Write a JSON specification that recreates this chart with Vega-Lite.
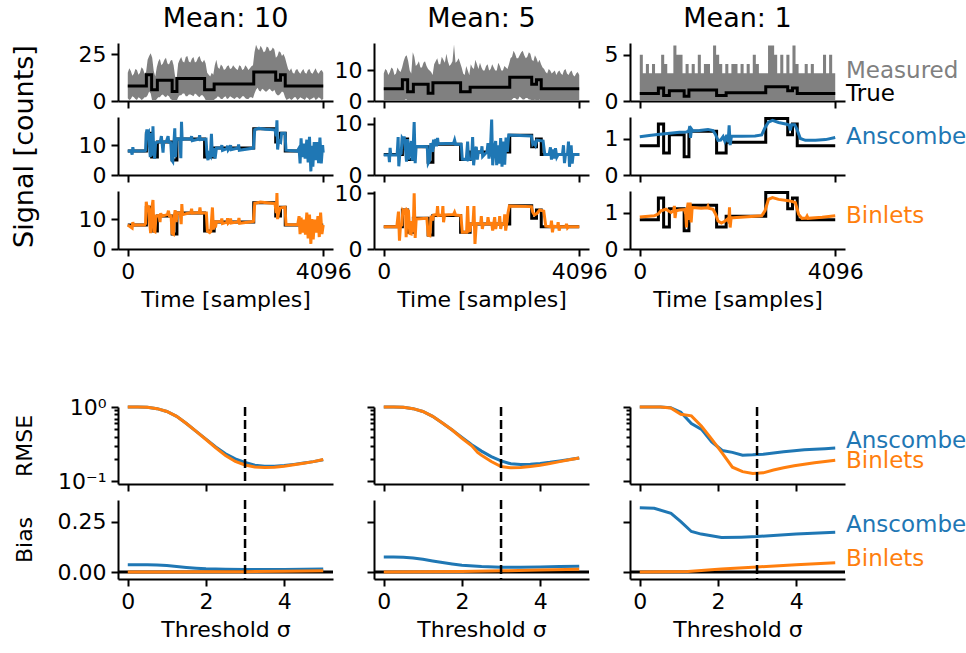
{
"$schema":"https://vega.github.io/schema/vega-lite/v6.json",
"padding":{"left":10,"top":5,"right":0,"bottom":0},
"bounds":"flush",
"columns":3,
"spacing":{"row":16,"column":41},
"config":{
 "font":"DejaVu Sans",
 "view":{"stroke":null},
 "axis":{"grid":false,"domainColor":"#000","domainWidth":2,"tickColor":"#000","tickWidth":2,"tickSize":7,"labelFont":"DejaVu Sans","labelFontSize":22,"labelColor":"#000","labelPadding":5,"labelFlush":false,"labelOverlap":false,"titleFont":"DejaVu Sans","titleFontSize":22,"titleFontWeight":"normal","titleColor":"#000","titlePadding":7},
 "title":{"font":"DejaVu Sans","fontSize":27,"fontWeight":"normal","color":"#000","offset":10}
},
"datasets":{
"meas":[
{"c":1,"t":0,"lo":1.5,"hi":15},{"c":1,"t":64,"lo":1,"hi":16},{"c":1,"t":128,"lo":2,"hi":14.5},{"c":1,"t":192,"lo":0.5,"hi":16.5},{"c":1,"t":256,"lo":1.5,"hi":15},{"c":1,"t":320,"lo":1,"hi":17},{"c":1,"t":384,"lo":2,"hi":15.5},{"c":1,"t":448,"lo":5,"hi":24},{"c":1,"t":512,"lo":0,"hi":23},{"c":1,"t":576,"lo":0,"hi":13},{"c":1,"t":640,"lo":2,"hi":21},{"c":1,"t":704,"lo":3,"hi":19},{"c":1,"t":768,"lo":2.5,"hi":22},{"c":1,"t":832,"lo":3,"hi":20},{"c":1,"t":896,"lo":1,"hi":21.5},{"c":1,"t":960,"lo":0,"hi":19},{"c":1,"t":1024,"lo":0,"hi":12},{"c":1,"t":1088,"lo":3,"hi":22},{"c":1,"t":1152,"lo":4,"hi":21},{"c":1,"t":1216,"lo":2.5,"hi":23.5},{"c":1,"t":1280,"lo":3.5,"hi":21},{"c":1,"t":1344,"lo":3,"hi":22.5},{"c":1,"t":1408,"lo":4,"hi":20.5},{"c":1,"t":1472,"lo":2.5,"hi":23},{"c":1,"t":1536,"lo":3,"hi":21.5},{"c":1,"t":1600,"lo":2,"hi":22},{"c":1,"t":1664,"lo":0,"hi":15},{"c":1,"t":1728,"lo":0.5,"hi":13},{"c":1,"t":1792,"lo":0,"hi":14},{"c":1,"t":1856,"lo":1.5,"hi":22},{"c":1,"t":1920,"lo":2,"hi":17},{"c":1,"t":1984,"lo":1,"hi":18.5},{"c":1,"t":2048,"lo":2.5,"hi":17},{"c":1,"t":2112,"lo":1.5,"hi":19},{"c":1,"t":2176,"lo":2,"hi":17.5},{"c":1,"t":2240,"lo":1,"hi":18},{"c":1,"t":2304,"lo":2,"hi":16.5},{"c":1,"t":2368,"lo":1.5,"hi":18.5},{"c":1,"t":2432,"lo":2.5,"hi":17},{"c":1,"t":2496,"lo":1,"hi":18},{"c":1,"t":2560,"lo":2,"hi":17.5},{"c":1,"t":2624,"lo":1.5,"hi":19},{"c":1,"t":2688,"lo":6,"hi":30},{"c":1,"t":2752,"lo":5.5,"hi":27},{"c":1,"t":2816,"lo":6.5,"hi":28},{"c":1,"t":2880,"lo":5,"hi":26.5},{"c":1,"t":2944,"lo":6,"hi":28.5},{"c":1,"t":3008,"lo":5.5,"hi":27},{"c":1,"t":3072,"lo":6,"hi":27.5},{"c":1,"t":3136,"lo":3,"hi":24},{"c":1,"t":3200,"lo":4,"hi":26},{"c":1,"t":3264,"lo":4.5,"hi":25},{"c":1,"t":3328,"lo":0.5,"hi":20},{"c":1,"t":3392,"lo":1.5,"hi":16},{"c":1,"t":3456,"lo":1,"hi":15},{"c":1,"t":3520,"lo":2,"hi":16.5},{"c":1,"t":3584,"lo":1,"hi":15.5},{"c":1,"t":3648,"lo":1.5,"hi":16},{"c":1,"t":3712,"lo":0.5,"hi":15},{"c":1,"t":3776,"lo":1.5,"hi":16.5},{"c":1,"t":3840,"lo":1,"hi":15},{"c":1,"t":3904,"lo":2,"hi":16},{"c":1,"t":3968,"lo":1,"hi":15.5},{"c":1,"t":4032,"lo":1.5,"hi":16},{"c":1,"t":4096,"lo":1,"hi":15},
{"c":1,"t":32,"lo":0.5,"hi":17.5},{"c":1,"t":96,"lo":2.5,"hi":13.5},{"c":1,"t":160,"lo":1,"hi":17},{"c":1,"t":224,"lo":2,"hi":14},{"c":1,"t":288,"lo":0.5,"hi":18},{"c":1,"t":352,"lo":2,"hi":14.5},{"c":1,"t":416,"lo":3,"hi":22},{"c":1,"t":480,"lo":4,"hi":25.5},{"c":1,"t":544,"lo":0.5,"hi":16},{"c":1,"t":608,"lo":1,"hi":18},{"c":1,"t":672,"lo":2,"hi":22.5},{"c":1,"t":736,"lo":3.5,"hi":20},{"c":1,"t":800,"lo":2,"hi":23},{"c":1,"t":864,"lo":2.5,"hi":19.5},{"c":1,"t":928,"lo":0.5,"hi":22},{"c":1,"t":992,"lo":0,"hi":13},{"c":1,"t":1056,"lo":2,"hi":20},{"c":1,"t":1120,"lo":3,"hi":23.5},{"c":1,"t":1184,"lo":4,"hi":20.5},{"c":1,"t":1248,"lo":2.5,"hi":24},{"c":1,"t":1312,"lo":3.5,"hi":20.5},{"c":1,"t":1376,"lo":2.5,"hi":23.5},{"c":1,"t":1440,"lo":3.5,"hi":21},{"c":1,"t":1504,"lo":2,"hi":24},{"c":1,"t":1568,"lo":3,"hi":20.5},{"c":1,"t":1632,"lo":0.5,"hi":20},{"c":1,"t":1696,"lo":0,"hi":14},{"c":1,"t":1760,"lo":0,"hi":15},{"c":1,"t":1824,"lo":1,"hi":19},{"c":1,"t":1888,"lo":2.5,"hi":18},{"c":1,"t":1952,"lo":1,"hi":19.5},{"c":1,"t":2016,"lo":2,"hi":16.5},{"c":1,"t":2080,"lo":1,"hi":18.5},{"c":1,"t":2144,"lo":2.5,"hi":17},{"c":1,"t":2208,"lo":1.5,"hi":19},{"c":1,"t":2272,"lo":2,"hi":17},{"c":1,"t":2336,"lo":1,"hi":19},{"c":1,"t":2400,"lo":2.5,"hi":16.5},{"c":1,"t":2464,"lo":1.5,"hi":19},{"c":1,"t":2528,"lo":1,"hi":16.5},{"c":1,"t":2592,"lo":2,"hi":18.5},{"c":1,"t":2656,"lo":4,"hi":26},{"c":1,"t":2720,"lo":7,"hi":28},{"c":1,"t":2784,"lo":5,"hi":29.5},{"c":1,"t":2848,"lo":6,"hi":26},{"c":1,"t":2912,"lo":5,"hi":29},{"c":1,"t":2976,"lo":6.5,"hi":26.5},{"c":1,"t":3040,"lo":5,"hi":28.5},{"c":1,"t":3104,"lo":4,"hi":23},{"c":1,"t":3168,"lo":3,"hi":26.5},{"c":1,"t":3232,"lo":5,"hi":24},{"c":1,"t":3296,"lo":2,"hi":23},{"c":1,"t":3360,"lo":1,"hi":17},{"c":1,"t":3424,"lo":0.5,"hi":17.5},{"c":1,"t":3488,"lo":2,"hi":14.5},{"c":1,"t":3552,"lo":0.5,"hi":17},{"c":1,"t":3616,"lo":2,"hi":14.5},{"c":1,"t":3680,"lo":1,"hi":17},{"c":1,"t":3744,"lo":2,"hi":14.5},{"c":1,"t":3808,"lo":0.5,"hi":17},{"c":1,"t":3872,"lo":1.5,"hi":14.5},{"c":1,"t":3936,"lo":0.5,"hi":17.5},{"c":1,"t":4000,"lo":2,"hi":14.5},{"c":1,"t":4064,"lo":0.5,"hi":16.5},
{"c":2,"t":0,"lo":0,"hi":9},{"c":2,"t":64,"lo":0,"hi":10},{"c":2,"t":128,"lo":0,"hi":9.5},{"c":2,"t":192,"lo":0,"hi":10.5},{"c":2,"t":256,"lo":0,"hi":9},{"c":2,"t":320,"lo":0,"hi":10},{"c":2,"t":384,"lo":0,"hi":11},{"c":2,"t":448,"lo":0.5,"hi":14.5},{"c":2,"t":512,"lo":0,"hi":13},{"c":2,"t":576,"lo":0,"hi":9},{"c":2,"t":640,"lo":0,"hi":14.5},{"c":2,"t":704,"lo":0,"hi":12},{"c":2,"t":768,"lo":0,"hi":11},{"c":2,"t":832,"lo":0,"hi":12.5},{"c":2,"t":896,"lo":0,"hi":11.5},{"c":2,"t":960,"lo":0,"hi":10},{"c":2,"t":1024,"lo":0,"hi":8.5},{"c":2,"t":1088,"lo":0,"hi":13},{"c":2,"t":1152,"lo":0,"hi":12},{"c":2,"t":1216,"lo":0,"hi":14.5},{"c":2,"t":1280,"lo":0,"hi":12.5},{"c":2,"t":1344,"lo":0,"hi":13},{"c":2,"t":1408,"lo":0,"hi":12},{"c":2,"t":1472,"lo":0,"hi":18.5},{"c":2,"t":1536,"lo":0,"hi":13},{"c":2,"t":1600,"lo":0,"hi":12.5},{"c":2,"t":1664,"lo":0,"hi":9},{"c":2,"t":1728,"lo":0,"hi":11.5},{"c":2,"t":1792,"lo":0,"hi":8.5},{"c":2,"t":1856,"lo":0,"hi":11},{"c":2,"t":1920,"lo":0,"hi":13.5},{"c":2,"t":1984,"lo":0,"hi":10.5},{"c":2,"t":2048,"lo":0,"hi":11},{"c":2,"t":2112,"lo":0,"hi":10},{"c":2,"t":2176,"lo":0,"hi":12},{"c":2,"t":2240,"lo":0,"hi":10.5},{"c":2,"t":2304,"lo":0,"hi":11},{"c":2,"t":2368,"lo":0,"hi":10},{"c":2,"t":2432,"lo":0,"hi":11.5},{"c":2,"t":2496,"lo":0,"hi":10},{"c":2,"t":2560,"lo":0,"hi":11},{"c":2,"t":2624,"lo":0,"hi":12},{"c":2,"t":2688,"lo":0.5,"hi":14.5},{"c":2,"t":2752,"lo":1,"hi":15.5},{"c":2,"t":2816,"lo":0.5,"hi":14},{"c":2,"t":2880,"lo":1,"hi":16},{"c":2,"t":2944,"lo":0.5,"hi":15},{"c":2,"t":3008,"lo":1,"hi":14.5},{"c":2,"t":3072,"lo":0.5,"hi":15.5},{"c":2,"t":3136,"lo":0,"hi":13},{"c":2,"t":3200,"lo":0,"hi":14},{"c":2,"t":3264,"lo":0.5,"hi":13.5},{"c":2,"t":3328,"lo":0,"hi":11},{"c":2,"t":3392,"lo":0,"hi":9.5},{"c":2,"t":3456,"lo":0,"hi":10.5},{"c":2,"t":3520,"lo":0,"hi":9},{"c":2,"t":3584,"lo":0,"hi":10},{"c":2,"t":3648,"lo":0,"hi":9.5},{"c":2,"t":3712,"lo":0,"hi":9},{"c":2,"t":3776,"lo":0,"hi":10},{"c":2,"t":3840,"lo":0,"hi":9},{"c":2,"t":3904,"lo":0,"hi":9.5},{"c":2,"t":3968,"lo":0,"hi":8.5},{"c":2,"t":4032,"lo":0,"hi":9},{"c":2,"t":4096,"lo":0,"hi":8.5},
{"c":2,"t":32,"lo":0,"hi":10.5},{"c":2,"t":96,"lo":0,"hi":8.5},{"c":2,"t":160,"lo":0,"hi":11},{"c":2,"t":224,"lo":0,"hi":8.5},{"c":2,"t":288,"lo":0,"hi":11},{"c":2,"t":352,"lo":0,"hi":9.5},{"c":2,"t":416,"lo":0,"hi":13},{"c":2,"t":480,"lo":0.5,"hi":15},{"c":2,"t":544,"lo":0,"hi":10},{"c":2,"t":608,"lo":0,"hi":16},{"c":2,"t":672,"lo":0,"hi":11.5},{"c":2,"t":736,"lo":0,"hi":13},{"c":2,"t":800,"lo":0,"hi":11},{"c":2,"t":864,"lo":0,"hi":13},{"c":2,"t":928,"lo":0,"hi":10.5},{"c":2,"t":992,"lo":0,"hi":9.5},{"c":2,"t":1056,"lo":0,"hi":12},{"c":2,"t":1120,"lo":0,"hi":14},{"c":2,"t":1184,"lo":0,"hi":12},{"c":2,"t":1248,"lo":0,"hi":13.5},{"c":2,"t":1312,"lo":0,"hi":15.5},{"c":2,"t":1376,"lo":0,"hi":11.5},{"c":2,"t":1440,"lo":0,"hi":13},{"c":2,"t":1504,"lo":0,"hi":12.5},{"c":2,"t":1568,"lo":0,"hi":14},{"c":2,"t":1632,"lo":0,"hi":11},{"c":2,"t":1696,"lo":0,"hi":8.5},{"c":2,"t":1760,"lo":0,"hi":10},{"c":2,"t":1824,"lo":0,"hi":12},{"c":2,"t":1888,"lo":0,"hi":10.5},{"c":2,"t":1952,"lo":0,"hi":12},{"c":2,"t":2016,"lo":0,"hi":12.5},{"c":2,"t":2080,"lo":0,"hi":10},{"c":2,"t":2144,"lo":0,"hi":11.5},{"c":2,"t":2208,"lo":0,"hi":10},{"c":2,"t":2272,"lo":0,"hi":12},{"c":2,"t":2336,"lo":0,"hi":10},{"c":2,"t":2400,"lo":0,"hi":12.5},{"c":2,"t":2464,"lo":0,"hi":10},{"c":2,"t":2528,"lo":0,"hi":11.5},{"c":2,"t":2592,"lo":0,"hi":10.5},{"c":2,"t":2656,"lo":0,"hi":14},{"c":2,"t":2720,"lo":1,"hi":16.5},{"c":2,"t":2784,"lo":0.5,"hi":14},{"c":2,"t":2848,"lo":1.5,"hi":15},{"c":2,"t":2912,"lo":0.5,"hi":16.5},{"c":2,"t":2976,"lo":1,"hi":14},{"c":2,"t":3040,"lo":0.5,"hi":16},{"c":2,"t":3104,"lo":0,"hi":13.5},{"c":2,"t":3168,"lo":0.5,"hi":15},{"c":2,"t":3232,"lo":0,"hi":12.5},{"c":2,"t":3296,"lo":0,"hi":12},{"c":2,"t":3360,"lo":0,"hi":10.5},{"c":2,"t":3424,"lo":0,"hi":9},{"c":2,"t":3488,"lo":0,"hi":10},{"c":2,"t":3552,"lo":0,"hi":9.5},{"c":2,"t":3616,"lo":0,"hi":8.5},{"c":2,"t":3680,"lo":0,"hi":10},{"c":2,"t":3744,"lo":0,"hi":8.5},{"c":2,"t":3808,"lo":0,"hi":10.5},{"c":2,"t":3872,"lo":0,"hi":8.5},{"c":2,"t":3936,"lo":0,"hi":10},{"c":2,"t":4000,"lo":0,"hi":8},{"c":2,"t":4064,"lo":0,"hi":9.5},
{"c":3,"t":0,"lo":0,"hi":5},{"c":3,"t":64,"lo":0,"hi":3},{"c":3,"t":128,"lo":0,"hi":4},{"c":3,"t":192,"lo":0,"hi":3},{"c":3,"t":256,"lo":0,"hi":4},{"c":3,"t":320,"lo":0,"hi":3},{"c":3,"t":384,"lo":0,"hi":3},{"c":3,"t":448,"lo":0,"hi":5},{"c":3,"t":512,"lo":0,"hi":4},{"c":3,"t":576,"lo":0,"hi":3},{"c":3,"t":640,"lo":0,"hi":3},{"c":3,"t":704,"lo":0,"hi":6},{"c":3,"t":768,"lo":0,"hi":5},{"c":3,"t":832,"lo":0,"hi":5},{"c":3,"t":896,"lo":0,"hi":3},{"c":3,"t":960,"lo":0,"hi":4},{"c":3,"t":1024,"lo":0,"hi":3},{"c":3,"t":1088,"lo":0,"hi":4},{"c":3,"t":1152,"lo":0,"hi":3},{"c":3,"t":1216,"lo":0,"hi":5},{"c":3,"t":1280,"lo":0,"hi":3},{"c":3,"t":1344,"lo":0,"hi":4},{"c":3,"t":1408,"lo":0,"hi":4},{"c":3,"t":1472,"lo":0,"hi":3},{"c":3,"t":1536,"lo":0,"hi":6},{"c":3,"t":1600,"lo":0,"hi":5},{"c":3,"t":1664,"lo":0,"hi":4},{"c":3,"t":1728,"lo":0,"hi":3},{"c":3,"t":1792,"lo":0,"hi":4},{"c":3,"t":1856,"lo":0,"hi":3},{"c":3,"t":1920,"lo":0,"hi":4},{"c":3,"t":1984,"lo":0,"hi":4},{"c":3,"t":2048,"lo":0,"hi":3},{"c":3,"t":2112,"lo":0,"hi":4},{"c":3,"t":2176,"lo":0,"hi":3},{"c":3,"t":2240,"lo":0,"hi":4},{"c":3,"t":2304,"lo":0,"hi":3},{"c":3,"t":2368,"lo":0,"hi":5},{"c":3,"t":2432,"lo":0,"hi":4},{"c":3,"t":2496,"lo":0,"hi":3},{"c":3,"t":2560,"lo":0,"hi":3},{"c":3,"t":2624,"lo":0,"hi":3},{"c":3,"t":2688,"lo":0,"hi":6},{"c":3,"t":2752,"lo":0,"hi":6},{"c":3,"t":2816,"lo":0,"hi":5},{"c":3,"t":2880,"lo":0,"hi":3},{"c":3,"t":2944,"lo":0,"hi":5},{"c":3,"t":3008,"lo":0,"hi":3},{"c":3,"t":3072,"lo":0,"hi":5},{"c":3,"t":3136,"lo":0,"hi":3},{"c":3,"t":3200,"lo":0,"hi":6},{"c":3,"t":3264,"lo":0,"hi":4},{"c":3,"t":3328,"lo":0,"hi":3},{"c":3,"t":3392,"lo":0,"hi":3},{"c":3,"t":3456,"lo":0,"hi":4},{"c":3,"t":3520,"lo":0,"hi":3},{"c":3,"t":3584,"lo":0,"hi":4},{"c":3,"t":3648,"lo":0,"hi":3},{"c":3,"t":3712,"lo":0,"hi":3},{"c":3,"t":3776,"lo":0,"hi":3},{"c":3,"t":3840,"lo":0,"hi":5},{"c":3,"t":3904,"lo":0,"hi":3},{"c":3,"t":3968,"lo":0,"hi":5},{"c":3,"t":4032,"lo":0,"hi":3},{"c":3,"t":4096,"lo":0,"hi":3}
],
"truth":[
{"c":1,"t":0,"v":8},{"c":1,"t":390,"v":14},{"c":1,"t":500,"v":6},{"c":1,"t":620,"v":11},{"c":1,"t":930,"v":5},{"c":1,"t":1030,"v":12},{"c":1,"t":1610,"v":6},{"c":1,"t":1810,"v":9},{"c":1,"t":2640,"v":15.5},{"c":1,"t":3100,"v":11},{"c":1,"t":3200,"v":14},{"c":1,"t":3300,"v":8},{"c":1,"t":4096,"v":8},
{"c":2,"t":0,"v":4},{"c":2,"t":390,"v":7},{"c":2,"t":500,"v":3},{"c":2,"t":620,"v":5.5},{"c":2,"t":930,"v":2.5},{"c":2,"t":1030,"v":6},{"c":2,"t":1610,"v":3},{"c":2,"t":1810,"v":4.5},{"c":2,"t":2640,"v":7.75},{"c":2,"t":3100,"v":5.5},{"c":2,"t":3200,"v":7},{"c":2,"t":3300,"v":4},{"c":2,"t":4096,"v":4},
{"c":3,"t":0,"v":0.8},{"c":3,"t":390,"v":1.4},{"c":3,"t":500,"v":0.6},{"c":3,"t":620,"v":1.1},{"c":3,"t":930,"v":0.5},{"c":3,"t":1030,"v":1.2},{"c":3,"t":1610,"v":0.6},{"c":3,"t":1810,"v":0.9},{"c":3,"t":2640,"v":1.55},{"c":3,"t":3100,"v":1.1},{"c":3,"t":3200,"v":1.4},{"c":3,"t":3300,"v":0.8},{"c":3,"t":4096,"v":0.8}
],
"den":[
{"c":1,"m":"A","t":0,"v":8},{"c":1,"m":"A","t":70,"v":8},{"c":1,"m":"A","t":92,"v":6.8},{"c":1,"m":"A","t":106,"v":9.3},{"c":1,"m":"A","t":120,"v":8},{"c":1,"m":"A","t":352,"v":8},{"c":1,"m":"A","t":373,"v":8.2},{"c":1,"m":"A","t":387,"v":13.5},{"c":1,"m":"A","t":401,"v":15.2},{"c":1,"m":"A","t":415,"v":13.8},{"c":1,"m":"A","t":436,"v":14.3},{"c":1,"m":"A","t":458,"v":9},{"c":1,"m":"A","t":472,"v":6},{"c":1,"m":"A","t":486,"v":14},{"c":1,"m":"A","t":500,"v":10},{"c":1,"m":"A","t":514,"v":6.5},{"c":1,"m":"A","t":528,"v":16.3},{"c":1,"m":"A","t":542,"v":8},{"c":1,"m":"A","t":563,"v":5.5},{"c":1,"m":"A","t":584,"v":10.8},{"c":1,"m":"A","t":633,"v":11},{"c":1,"m":"A","t":683,"v":11.2},{"c":1,"m":"A","t":704,"v":13},{"c":1,"m":"A","t":718,"v":10.8},{"c":1,"m":"A","t":739,"v":7.5},{"c":1,"m":"A","t":753,"v":11},{"c":1,"m":"A","t":810,"v":11.2},{"c":1,"m":"A","t":845,"v":13},{"c":1,"m":"A","t":859,"v":11},{"c":1,"m":"A","t":901,"v":10.8},{"c":1,"m":"A","t":922,"v":5},{"c":1,"m":"A","t":943,"v":4.5},{"c":1,"m":"A","t":964,"v":10},{"c":1,"m":"A","t":985,"v":15.6},{"c":1,"m":"A","t":1000,"v":6},{"c":1,"m":"A","t":1021,"v":12},{"c":1,"m":"A","t":1091,"v":12},{"c":1,"m":"A","t":1112,"v":5.6},{"c":1,"m":"A","t":1126,"v":17.8},{"c":1,"m":"A","t":1140,"v":11.8},{"c":1,"m":"A","t":1197,"v":12.1},{"c":1,"m":"A","t":1323,"v":12},{"c":1,"m":"A","t":1337,"v":13},{"c":1,"m":"A","t":1351,"v":11.5},{"c":1,"m":"A","t":1492,"v":12},{"c":1,"m":"A","t":1506,"v":13.3},{"c":1,"m":"A","t":1520,"v":11.8},{"c":1,"m":"A","t":1640,"v":12},{"c":1,"m":"A","t":1661,"v":6.5},{"c":1,"m":"A","t":1682,"v":5},{"c":1,"m":"A","t":1703,"v":7},{"c":1,"m":"A","t":1732,"v":6.3},{"c":1,"m":"A","t":1753,"v":13.8},{"c":1,"m":"A","t":1774,"v":6},{"c":1,"m":"A","t":1802,"v":9},{"c":1,"m":"A","t":1830,"v":5.5},{"c":1,"m":"A","t":1858,"v":9},{"c":1,"m":"A","t":1957,"v":9},{"c":1,"m":"A","t":1971,"v":10},{"c":1,"m":"A","t":1985,"v":8.2},{"c":1,"m":"A","t":2077,"v":8.8},{"c":1,"m":"A","t":2091,"v":9.8},{"c":1,"m":"A","t":2105,"v":8.4},{"c":1,"m":"A","t":2133,"v":9},{"c":1,"m":"A","t":2154,"v":10},{"c":1,"m":"A","t":2168,"v":8.5},{"c":1,"m":"A","t":2309,"v":9},{"c":1,"m":"A","t":2323,"v":10.2},{"c":1,"m":"A","t":2337,"v":8.3},{"c":1,"m":"A","t":2633,"v":9},{"c":1,"m":"A","t":2661,"v":15.2},{"c":1,"m":"A","t":2746,"v":15.6},{"c":1,"m":"A","t":2886,"v":15.3},{"c":1,"m":"A","t":3084,"v":15.1},{"c":1,"m":"A","t":3112,"v":13},{"c":1,"m":"A","t":3126,"v":18.3},{"c":1,"m":"A","t":3140,"v":8.5},{"c":1,"m":"A","t":3161,"v":11.5},{"c":1,"m":"A","t":3203,"v":11},{"c":1,"m":"A","t":3224,"v":14},{"c":1,"m":"A","t":3295,"v":14},{"c":1,"m":"A","t":3316,"v":8.3},{"c":1,"m":"A","t":3555,"v":8},{"c":1,"m":"A","t":3590,"v":9},{"c":1,"m":"A","t":3611,"v":3.9},{"c":1,"m":"A","t":3632,"v":12.3},{"c":1,"m":"A","t":3653,"v":6},{"c":1,"m":"A","t":3689,"v":10.5},{"c":1,"m":"A","t":3717,"v":5.5},{"c":1,"m":"A","t":3752,"v":11.8},{"c":1,"m":"A","t":3780,"v":4.2},{"c":1,"m":"A","t":3808,"v":12.8},{"c":1,"m":"A","t":3837,"v":1.2},{"c":1,"m":"A","t":3858,"v":9.8},{"c":1,"m":"A","t":3879,"v":2.8},{"c":1,"m":"A","t":3907,"v":11},{"c":1,"m":"A","t":3942,"v":5},{"c":1,"m":"A","t":3970,"v":11},{"c":1,"m":"A","t":3999,"v":4},{"c":1,"m":"A","t":4027,"v":12.5},{"c":1,"m":"A","t":4055,"v":3.9},{"c":1,"m":"A","t":4083,"v":10},{"c":1,"m":"A","t":4096,"v":7.5},
{"c":1,"m":"B","t":0,"v":8},{"c":1,"m":"B","t":92,"v":7},{"c":1,"m":"B","t":106,"v":9},{"c":1,"m":"B","t":120,"v":8},{"c":1,"m":"B","t":352,"v":8},{"c":1,"m":"B","t":373,"v":8.5},{"c":1,"m":"B","t":387,"v":15.8},{"c":1,"m":"B","t":408,"v":13.5},{"c":1,"m":"B","t":436,"v":14.5},{"c":1,"m":"B","t":458,"v":9},{"c":1,"m":"B","t":479,"v":5.3},{"c":1,"m":"B","t":500,"v":13},{"c":1,"m":"B","t":528,"v":16.4},{"c":1,"m":"B","t":549,"v":6},{"c":1,"m":"B","t":570,"v":5.8},{"c":1,"m":"B","t":591,"v":11},{"c":1,"m":"B","t":655,"v":11.2},{"c":1,"m":"B","t":676,"v":9},{"c":1,"m":"B","t":690,"v":12},{"c":1,"m":"B","t":711,"v":11},{"c":1,"m":"B","t":831,"v":11.5},{"c":1,"m":"B","t":852,"v":12.8},{"c":1,"m":"B","t":873,"v":11},{"c":1,"m":"B","t":908,"v":11},{"c":1,"m":"B","t":929,"v":5.2},{"c":1,"m":"B","t":957,"v":4.9},{"c":1,"m":"B","t":978,"v":11.5},{"c":1,"m":"B","t":993,"v":13},{"c":1,"m":"B","t":1014,"v":9},{"c":1,"m":"B","t":1035,"v":12},{"c":1,"m":"B","t":1098,"v":12},{"c":1,"m":"B","t":1119,"v":8.3},{"c":1,"m":"B","t":1133,"v":15},{"c":1,"m":"B","t":1147,"v":11.5},{"c":1,"m":"B","t":1323,"v":12.2},{"c":1,"m":"B","t":1337,"v":13.5},{"c":1,"m":"B","t":1351,"v":12},{"c":1,"m":"B","t":1499,"v":12.2},{"c":1,"m":"B","t":1513,"v":13.9},{"c":1,"m":"B","t":1527,"v":12},{"c":1,"m":"B","t":1647,"v":12},{"c":1,"m":"B","t":1668,"v":6},{"c":1,"m":"B","t":1718,"v":5.5},{"c":1,"m":"B","t":1739,"v":5.8},{"c":1,"m":"B","t":1774,"v":13.9},{"c":1,"m":"B","t":1795,"v":6.5},{"c":1,"m":"B","t":1816,"v":9.5},{"c":1,"m":"B","t":1837,"v":7.2},{"c":1,"m":"B","t":1858,"v":9.1},{"c":1,"m":"B","t":1957,"v":9.1},{"c":1,"m":"B","t":1971,"v":10.2},{"c":1,"m":"B","t":1985,"v":8.5},{"c":1,"m":"B","t":2077,"v":9},{"c":1,"m":"B","t":2091,"v":10.3},{"c":1,"m":"B","t":2105,"v":8.6},{"c":1,"m":"B","t":2140,"v":9.1},{"c":1,"m":"B","t":2154,"v":10.2},{"c":1,"m":"B","t":2168,"v":8.7},{"c":1,"m":"B","t":2316,"v":9.1},{"c":1,"m":"B","t":2330,"v":10.4},{"c":1,"m":"B","t":2344,"v":8.6},{"c":1,"m":"B","t":2633,"v":9.2},{"c":1,"m":"B","t":2661,"v":15.3},{"c":1,"m":"B","t":2781,"v":15.7},{"c":1,"m":"B","t":2957,"v":15.4},{"c":1,"m":"B","t":3084,"v":15.2},{"c":1,"m":"B","t":3112,"v":12},{"c":1,"m":"B","t":3126,"v":18.7},{"c":1,"m":"B","t":3140,"v":10},{"c":1,"m":"B","t":3161,"v":12},{"c":1,"m":"B","t":3196,"v":13.8},{"c":1,"m":"B","t":3295,"v":14},{"c":1,"m":"B","t":3316,"v":8.2},{"c":1,"m":"B","t":3562,"v":8.1},{"c":1,"m":"B","t":3590,"v":11},{"c":1,"m":"B","t":3611,"v":5},{"c":1,"m":"B","t":3632,"v":10.5},{"c":1,"m":"B","t":3661,"v":5.5},{"c":1,"m":"B","t":3696,"v":9.8},{"c":1,"m":"B","t":3724,"v":4.8},{"c":1,"m":"B","t":3752,"v":12.2},{"c":1,"m":"B","t":3780,"v":3.5},{"c":1,"m":"B","t":3808,"v":11.5},{"c":1,"m":"B","t":3837,"v":1.7},{"c":1,"m":"B","t":3858,"v":10},{"c":1,"m":"B","t":3886,"v":3.2},{"c":1,"m":"B","t":3914,"v":9.8},{"c":1,"m":"B","t":3949,"v":5.5},{"c":1,"m":"B","t":3985,"v":11},{"c":1,"m":"B","t":4013,"v":4},{"c":1,"m":"B","t":4041,"v":12.2},{"c":1,"m":"B","t":4069,"v":5},{"c":1,"m":"B","t":4096,"v":8},
{"c":2,"m":"A","t":0,"v":3.9},{"c":2,"m":"A","t":105,"v":3.9},{"c":2,"m":"A","t":119,"v":2.5},{"c":2,"m":"A","t":133,"v":5.3},{"c":2,"m":"A","t":147,"v":3.9},{"c":2,"m":"A","t":280,"v":3.9},{"c":2,"m":"A","t":301,"v":7.4},{"c":2,"m":"A","t":315,"v":1.7},{"c":2,"m":"A","t":336,"v":4},{"c":2,"m":"A","t":364,"v":4.2},{"c":2,"m":"A","t":385,"v":7.2},{"c":2,"m":"A","t":413,"v":6.8},{"c":2,"m":"A","t":427,"v":7.5},{"c":2,"m":"A","t":455,"v":5},{"c":2,"m":"A","t":476,"v":2.6},{"c":2,"m":"A","t":497,"v":7},{"c":2,"m":"A","t":518,"v":3},{"c":2,"m":"A","t":546,"v":5.2},{"c":2,"m":"A","t":574,"v":6.6},{"c":2,"m":"A","t":595,"v":2.8},{"c":2,"m":"A","t":616,"v":5.5},{"c":2,"m":"A","t":637,"v":10.3},{"c":2,"m":"A","t":658,"v":2.3},{"c":2,"m":"A","t":679,"v":5.6},{"c":2,"m":"A","t":910,"v":5.5},{"c":2,"m":"A","t":931,"v":2.3},{"c":2,"m":"A","t":959,"v":2.8},{"c":2,"m":"A","t":987,"v":6.2},{"c":2,"m":"A","t":1022,"v":4.5},{"c":2,"m":"A","t":1043,"v":6.9},{"c":2,"m":"A","t":1064,"v":6.1},{"c":2,"m":"A","t":1092,"v":7},{"c":2,"m":"A","t":1106,"v":5.6},{"c":2,"m":"A","t":1127,"v":7.2},{"c":2,"m":"A","t":1141,"v":6.1},{"c":2,"m":"A","t":1463,"v":6.2},{"c":2,"m":"A","t":1484,"v":6.8},{"c":2,"m":"A","t":1505,"v":6},{"c":2,"m":"A","t":1624,"v":6},{"c":2,"m":"A","t":1645,"v":3.1},{"c":2,"m":"A","t":1729,"v":3},{"c":2,"m":"A","t":1757,"v":6.5},{"c":2,"m":"A","t":1778,"v":3},{"c":2,"m":"A","t":1841,"v":3.2},{"c":2,"m":"A","t":1862,"v":7.4},{"c":2,"m":"A","t":1883,"v":1.9},{"c":2,"m":"A","t":1911,"v":4.6},{"c":2,"m":"A","t":1939,"v":5.5},{"c":2,"m":"A","t":1960,"v":3},{"c":2,"m":"A","t":1981,"v":4.5},{"c":2,"m":"A","t":2044,"v":4.5},{"c":2,"m":"A","t":2058,"v":5.6},{"c":2,"m":"A","t":2072,"v":3.6},{"c":2,"m":"A","t":2163,"v":4.5},{"c":2,"m":"A","t":2184,"v":6.2},{"c":2,"m":"A","t":2205,"v":3.2},{"c":2,"m":"A","t":2233,"v":4.5},{"c":2,"m":"A","t":2261,"v":10.8},{"c":2,"m":"A","t":2282,"v":1.9},{"c":2,"m":"A","t":2310,"v":4.8},{"c":2,"m":"A","t":2345,"v":6.6},{"c":2,"m":"A","t":2366,"v":1.9},{"c":2,"m":"A","t":2394,"v":5.8},{"c":2,"m":"A","t":2422,"v":2.2},{"c":2,"m":"A","t":2450,"v":7.2},{"c":2,"m":"A","t":2478,"v":1.6},{"c":2,"m":"A","t":2506,"v":6.5},{"c":2,"m":"A","t":2534,"v":2},{"c":2,"m":"A","t":2562,"v":7.3},{"c":2,"m":"A","t":2590,"v":4.5},{"c":2,"m":"A","t":2618,"v":7.8},{"c":2,"m":"A","t":2849,"v":7.7},{"c":2,"m":"A","t":3094,"v":7.6},{"c":2,"m":"A","t":3122,"v":6},{"c":2,"m":"A","t":3150,"v":6.3},{"c":2,"m":"A","t":3178,"v":5.8},{"c":2,"m":"A","t":3206,"v":6.8},{"c":2,"m":"A","t":3339,"v":6.6},{"c":2,"m":"A","t":3374,"v":4},{"c":2,"m":"A","t":3465,"v":4},{"c":2,"m":"A","t":3493,"v":5.4},{"c":2,"m":"A","t":3514,"v":3},{"c":2,"m":"A","t":3542,"v":5},{"c":2,"m":"A","t":3570,"v":3.2},{"c":2,"m":"A","t":3598,"v":5.2},{"c":2,"m":"A","t":3626,"v":3.5},{"c":2,"m":"A","t":3654,"v":4},{"c":2,"m":"A","t":3745,"v":4},{"c":2,"m":"A","t":3766,"v":5.8},{"c":2,"m":"A","t":3787,"v":2.3},{"c":2,"m":"A","t":3808,"v":4},{"c":2,"m":"A","t":3850,"v":4},{"c":2,"m":"A","t":3871,"v":6.5},{"c":2,"m":"A","t":3892,"v":1.6},{"c":2,"m":"A","t":3913,"v":4},{"c":2,"m":"A","t":3927,"v":5.8},{"c":2,"m":"A","t":3948,"v":2.2},{"c":2,"m":"A","t":3969,"v":4},{"c":2,"m":"A","t":4096,"v":4},
{"c":2,"m":"B","t":0,"v":4},{"c":2,"m":"B","t":273,"v":4},{"c":2,"m":"B","t":308,"v":6.7},{"c":2,"m":"B","t":329,"v":1.5},{"c":2,"m":"B","t":350,"v":4.1},{"c":2,"m":"B","t":378,"v":4.3},{"c":2,"m":"B","t":399,"v":6.9},{"c":2,"m":"B","t":427,"v":6.6},{"c":2,"m":"B","t":455,"v":7.2},{"c":2,"m":"B","t":469,"v":2.1},{"c":2,"m":"B","t":490,"v":7},{"c":2,"m":"B","t":518,"v":6.8},{"c":2,"m":"B","t":546,"v":2.8},{"c":2,"m":"B","t":574,"v":2.7},{"c":2,"m":"B","t":595,"v":5},{"c":2,"m":"B","t":616,"v":3},{"c":2,"m":"B","t":637,"v":10},{"c":2,"m":"B","t":658,"v":2},{"c":2,"m":"B","t":679,"v":5.4},{"c":2,"m":"B","t":903,"v":5.5},{"c":2,"m":"B","t":931,"v":2.5},{"c":2,"m":"B","t":966,"v":2.4},{"c":2,"m":"B","t":994,"v":6},{"c":2,"m":"B","t":1022,"v":5.1},{"c":2,"m":"B","t":1043,"v":6.1},{"c":2,"m":"B","t":1113,"v":6.2},{"c":2,"m":"B","t":1127,"v":7.7},{"c":2,"m":"B","t":1141,"v":6},{"c":2,"m":"B","t":1225,"v":6.1},{"c":2,"m":"B","t":1239,"v":7.7},{"c":2,"m":"B","t":1253,"v":4.8},{"c":2,"m":"B","t":1274,"v":6.1},{"c":2,"m":"B","t":1463,"v":6.2},{"c":2,"m":"B","t":1484,"v":6.6},{"c":2,"m":"B","t":1505,"v":6.1},{"c":2,"m":"B","t":1617,"v":6},{"c":2,"m":"B","t":1645,"v":3},{"c":2,"m":"B","t":1736,"v":3},{"c":2,"m":"B","t":1757,"v":7.7},{"c":2,"m":"B","t":1778,"v":3.2},{"c":2,"m":"B","t":1806,"v":3.3},{"c":2,"m":"B","t":1827,"v":4.5},{"c":2,"m":"B","t":1869,"v":4.5},{"c":2,"m":"B","t":1890,"v":7.7},{"c":2,"m":"B","t":1911,"v":0.9},{"c":2,"m":"B","t":1939,"v":4.6},{"c":2,"m":"B","t":2030,"v":4.5},{"c":2,"m":"B","t":2044,"v":5.9},{"c":2,"m":"B","t":2065,"v":3.6},{"c":2,"m":"B","t":2086,"v":4.5},{"c":2,"m":"B","t":2170,"v":4.5},{"c":2,"m":"B","t":2184,"v":5.7},{"c":2,"m":"B","t":2205,"v":4.5},{"c":2,"m":"B","t":2247,"v":4.5},{"c":2,"m":"B","t":2261,"v":4.8},{"c":2,"m":"B","t":2282,"v":3.3},{"c":2,"m":"B","t":2303,"v":4.5},{"c":2,"m":"B","t":2324,"v":5.7},{"c":2,"m":"B","t":2345,"v":3.6},{"c":2,"m":"B","t":2366,"v":4.5},{"c":2,"m":"B","t":2415,"v":4.5},{"c":2,"m":"B","t":2429,"v":5.9},{"c":2,"m":"B","t":2450,"v":3.6},{"c":2,"m":"B","t":2471,"v":4.5},{"c":2,"m":"B","t":2520,"v":4.5},{"c":2,"m":"B","t":2534,"v":6.2},{"c":2,"m":"B","t":2555,"v":3.3},{"c":2,"m":"B","t":2576,"v":4.6},{"c":2,"m":"B","t":2604,"v":6.5},{"c":2,"m":"B","t":2632,"v":7.7},{"c":2,"m":"B","t":3094,"v":7.6},{"c":2,"m":"B","t":3122,"v":6.6},{"c":2,"m":"B","t":3157,"v":6.1},{"c":2,"m":"B","t":3213,"v":6.4},{"c":2,"m":"B","t":3269,"v":7},{"c":2,"m":"B","t":3353,"v":6.8},{"c":2,"m":"B","t":3395,"v":4.1},{"c":2,"m":"B","t":3500,"v":4},{"c":2,"m":"B","t":3514,"v":5.1},{"c":2,"m":"B","t":3535,"v":3},{"c":2,"m":"B","t":3556,"v":4.1},{"c":2,"m":"B","t":3640,"v":4},{"c":2,"m":"B","t":3654,"v":4.8},{"c":2,"m":"B","t":3675,"v":3.3},{"c":2,"m":"B","t":3696,"v":4},{"c":2,"m":"B","t":3815,"v":4},{"c":2,"m":"B","t":3829,"v":4.5},{"c":2,"m":"B","t":3850,"v":3.8},{"c":2,"m":"B","t":3871,"v":4},{"c":2,"m":"B","t":4096,"v":4},
{"c":3,"m":"A","t":0,"v":1.05},{"c":3,"m":"A","t":197,"v":1.08},{"c":3,"m":"A","t":373,"v":1.11},{"c":3,"m":"A","t":584,"v":1.14},{"c":3,"m":"A","t":831,"v":1.17},{"c":3,"m":"A","t":972,"v":1.18},{"c":3,"m":"A","t":1028,"v":1.2},{"c":3,"m":"A","t":1049,"v":1.34},{"c":3,"m":"A","t":1063,"v":1.02},{"c":3,"m":"A","t":1084,"v":1.26},{"c":3,"m":"A","t":1112,"v":1.21},{"c":3,"m":"A","t":1253,"v":1.22},{"c":3,"m":"A","t":1429,"v":1.25},{"c":3,"m":"A","t":1535,"v":1.22},{"c":3,"m":"A","t":1584,"v":1.12},{"c":3,"m":"A","t":1640,"v":0.95},{"c":3,"m":"A","t":1697,"v":0.96},{"c":3,"m":"A","t":1746,"v":1.05},{"c":3,"m":"A","t":1781,"v":0.93},{"c":3,"m":"A","t":1823,"v":1.1},{"c":3,"m":"A","t":1852,"v":0.9},{"c":3,"m":"A","t":1873,"v":1.36},{"c":3,"m":"A","t":1894,"v":0.82},{"c":3,"m":"A","t":1922,"v":1.07},{"c":3,"m":"A","t":2133,"v":1.06},{"c":3,"m":"A","t":2415,"v":1.07},{"c":3,"m":"A","t":2555,"v":1.1},{"c":3,"m":"A","t":2626,"v":1.3},{"c":3,"m":"A","t":2696,"v":1.45},{"c":3,"m":"A","t":2781,"v":1.5},{"c":3,"m":"A","t":2908,"v":1.44},{"c":3,"m":"A","t":3084,"v":1.39},{"c":3,"m":"A","t":3133,"v":1.36},{"c":3,"m":"A","t":3154,"v":1.22},{"c":3,"m":"A","t":3182,"v":1.38},{"c":3,"m":"A","t":3245,"v":1.38},{"c":3,"m":"A","t":3295,"v":1.25},{"c":3,"m":"A","t":3365,"v":1},{"c":3,"m":"A","t":3471,"v":0.95},{"c":3,"m":"A","t":3682,"v":0.95},{"c":3,"m":"A","t":3893,"v":0.97},{"c":3,"m":"A","t":4096,"v":1.03},
{"c":3,"m":"B","t":0,"v":0.88},{"c":3,"m":"B","t":303,"v":0.91},{"c":3,"m":"B","t":387,"v":0.96},{"c":3,"m":"B","t":444,"v":1.05},{"c":3,"m":"B","t":549,"v":1.09},{"c":3,"m":"B","t":655,"v":1},{"c":3,"m":"B","t":711,"v":1.05},{"c":3,"m":"B","t":725,"v":1.18},{"c":3,"m":"B","t":739,"v":0.85},{"c":3,"m":"B","t":760,"v":1.05},{"c":3,"m":"B","t":831,"v":1.07},{"c":3,"m":"B","t":936,"v":1.08},{"c":3,"m":"B","t":964,"v":0.95},{"c":3,"m":"B","t":979,"v":0.59},{"c":3,"m":"B","t":993,"v":1.1},{"c":3,"m":"B","t":1014,"v":1.27},{"c":3,"m":"B","t":1035,"v":0.8},{"c":3,"m":"B","t":1056,"v":1.27},{"c":3,"m":"B","t":1077,"v":0.73},{"c":3,"m":"B","t":1098,"v":1.14},{"c":3,"m":"B","t":1288,"v":1.12},{"c":3,"m":"B","t":1415,"v":1.13},{"c":3,"m":"B","t":1429,"v":1.17},{"c":3,"m":"B","t":1443,"v":1.12},{"c":3,"m":"B","t":1535,"v":1.09},{"c":3,"m":"B","t":1591,"v":0.95},{"c":3,"m":"B","t":1640,"v":0.77},{"c":3,"m":"B","t":1711,"v":0.71},{"c":3,"m":"B","t":1781,"v":0.76},{"c":3,"m":"B","t":1837,"v":0.82},{"c":3,"m":"B","t":1866,"v":0.75},{"c":3,"m":"B","t":1880,"v":1.14},{"c":3,"m":"B","t":1894,"v":0.59},{"c":3,"m":"B","t":1915,"v":0.86},{"c":3,"m":"B","t":1957,"v":0.86},{"c":3,"m":"B","t":2555,"v":0.91},{"c":3,"m":"B","t":2626,"v":1.05},{"c":3,"m":"B","t":2696,"v":1.36},{"c":3,"m":"B","t":2781,"v":1.41},{"c":3,"m":"B","t":2908,"v":1.36},{"c":3,"m":"B","t":3119,"v":1.32},{"c":3,"m":"B","t":3203,"v":1.3},{"c":3,"m":"B","t":3260,"v":1.27},{"c":3,"m":"B","t":3330,"v":0.95},{"c":3,"m":"B","t":3400,"v":0.84},{"c":3,"m":"B","t":3485,"v":0.85},{"c":3,"m":"B","t":3506,"v":0.9},{"c":3,"m":"B","t":3527,"v":0.84},{"c":3,"m":"B","t":3823,"v":0.87},{"c":3,"m":"B","t":4096,"v":0.91}
],
"rmse":[
{"c":1,"m":"A","s":0,"v":1},{"c":1,"m":"A","s":0.25,"v":1},{"c":1,"m":"A","s":0.5,"v":0.99},{"c":1,"m":"A","s":0.75,"v":0.95},{"c":1,"m":"A","s":1,"v":0.87},{"c":1,"m":"A","s":1.25,"v":0.75},{"c":1,"m":"A","s":1.5,"v":0.6},{"c":1,"m":"A","s":1.75,"v":0.47},{"c":1,"m":"A","s":2,"v":0.37},{"c":1,"m":"A","s":2.25,"v":0.29},{"c":1,"m":"A","s":2.5,"v":0.235},{"c":1,"m":"A","s":2.75,"v":0.2},{"c":1,"m":"A","s":3,"v":0.18},{"c":1,"m":"A","s":3.25,"v":0.165},{"c":1,"m":"A","s":3.5,"v":0.16},{"c":1,"m":"A","s":3.75,"v":0.16},{"c":1,"m":"A","s":4,"v":0.163},{"c":1,"m":"A","s":4.25,"v":0.169},{"c":1,"m":"A","s":4.5,"v":0.176},{"c":1,"m":"A","s":4.75,"v":0.184},{"c":1,"m":"A","s":5,"v":0.195},
{"c":1,"m":"B","s":0,"v":1},{"c":1,"m":"B","s":0.25,"v":1},{"c":1,"m":"B","s":0.5,"v":0.99},{"c":1,"m":"B","s":0.75,"v":0.95},{"c":1,"m":"B","s":1,"v":0.87},{"c":1,"m":"B","s":1.25,"v":0.75},{"c":1,"m":"B","s":1.5,"v":0.6},{"c":1,"m":"B","s":1.75,"v":0.47},{"c":1,"m":"B","s":2,"v":0.365},{"c":1,"m":"B","s":2.25,"v":0.283},{"c":1,"m":"B","s":2.5,"v":0.222},{"c":1,"m":"B","s":2.75,"v":0.185},{"c":1,"m":"B","s":3,"v":0.166},{"c":1,"m":"B","s":3.25,"v":0.156},{"c":1,"m":"B","s":3.5,"v":0.153},{"c":1,"m":"B","s":3.75,"v":0.155},{"c":1,"m":"B","s":4,"v":0.16},{"c":1,"m":"B","s":4.25,"v":0.167},{"c":1,"m":"B","s":4.5,"v":0.175},{"c":1,"m":"B","s":4.75,"v":0.184},{"c":1,"m":"B","s":5,"v":0.196},
{"c":2,"m":"A","s":0,"v":1},{"c":2,"m":"A","s":0.25,"v":1},{"c":2,"m":"A","s":0.5,"v":0.99},{"c":2,"m":"A","s":0.75,"v":0.95},{"c":2,"m":"A","s":1,"v":0.87},{"c":2,"m":"A","s":1.25,"v":0.75},{"c":2,"m":"A","s":1.5,"v":0.61},{"c":2,"m":"A","s":1.75,"v":0.49},{"c":2,"m":"A","s":2,"v":0.39},{"c":2,"m":"A","s":2.25,"v":0.31},{"c":2,"m":"A","s":2.5,"v":0.255},{"c":2,"m":"A","s":2.75,"v":0.215},{"c":2,"m":"A","s":3,"v":0.188},{"c":2,"m":"A","s":3.25,"v":0.172},{"c":2,"m":"A","s":3.5,"v":0.168},{"c":2,"m":"A","s":3.75,"v":0.17},{"c":2,"m":"A","s":4,"v":0.174},{"c":2,"m":"A","s":4.25,"v":0.18},{"c":2,"m":"A","s":4.5,"v":0.188},{"c":2,"m":"A","s":4.75,"v":0.196},{"c":2,"m":"A","s":5,"v":0.206},
{"c":2,"m":"B","s":0,"v":1},{"c":2,"m":"B","s":0.25,"v":1},{"c":2,"m":"B","s":0.5,"v":0.99},{"c":2,"m":"B","s":0.75,"v":0.95},{"c":2,"m":"B","s":1,"v":0.87},{"c":2,"m":"B","s":1.25,"v":0.75},{"c":2,"m":"B","s":1.5,"v":0.61},{"c":2,"m":"B","s":1.75,"v":0.49},{"c":2,"m":"B","s":2,"v":0.38},{"c":2,"m":"B","s":2.25,"v":0.3},{"c":2,"m":"B","s":2.4,"v":0.245},{"c":2,"m":"B","s":2.5,"v":0.225},{"c":2,"m":"B","s":2.75,"v":0.185},{"c":2,"m":"B","s":3,"v":0.158},{"c":2,"m":"B","s":3.25,"v":0.152},{"c":2,"m":"B","s":3.5,"v":0.153},{"c":2,"m":"B","s":3.75,"v":0.158},{"c":2,"m":"B","s":4,"v":0.165},{"c":2,"m":"B","s":4.25,"v":0.174},{"c":2,"m":"B","s":4.5,"v":0.184},{"c":2,"m":"B","s":4.75,"v":0.195},{"c":2,"m":"B","s":5,"v":0.206},
{"c":3,"m":"A","s":0,"v":1},{"c":3,"m":"A","s":0.27,"v":1},{"c":3,"m":"A","s":0.53,"v":1},{"c":3,"m":"A","s":0.79,"v":0.98},{"c":3,"m":"A","s":1.05,"v":0.85},{"c":3,"m":"A","s":1.32,"v":0.6},{"c":3,"m":"A","s":1.58,"v":0.5},{"c":3,"m":"A","s":1.84,"v":0.34},{"c":3,"m":"A","s":2.11,"v":0.26},{"c":3,"m":"A","s":2.37,"v":0.245},{"c":3,"m":"A","s":2.63,"v":0.224},{"c":3,"m":"A","s":2.89,"v":0.227},{"c":3,"m":"A","s":3.16,"v":0.232},{"c":3,"m":"A","s":3.42,"v":0.24},{"c":3,"m":"A","s":3.68,"v":0.25},{"c":3,"m":"A","s":3.95,"v":0.258},{"c":3,"m":"A","s":4.21,"v":0.265},{"c":3,"m":"A","s":4.47,"v":0.27},{"c":3,"m":"A","s":4.74,"v":0.275},{"c":3,"m":"A","s":5,"v":0.28},
{"c":3,"m":"B","s":0,"v":1},{"c":3,"m":"B","s":0.27,"v":1},{"c":3,"m":"B","s":0.53,"v":1},{"c":3,"m":"B","s":0.79,"v":0.97},{"c":3,"m":"B","s":1.05,"v":0.8},{"c":3,"m":"B","s":1.32,"v":0.76},{"c":3,"m":"B","s":1.58,"v":0.55},{"c":3,"m":"B","s":1.84,"v":0.37},{"c":3,"m":"B","s":2.11,"v":0.24},{"c":3,"m":"B","s":2.37,"v":0.155},{"c":3,"m":"B","s":2.63,"v":0.135},{"c":3,"m":"B","s":2.89,"v":0.127},{"c":3,"m":"B","s":3.16,"v":0.13},{"c":3,"m":"B","s":3.42,"v":0.142},{"c":3,"m":"B","s":3.68,"v":0.152},{"c":3,"m":"B","s":3.95,"v":0.162},{"c":3,"m":"B","s":4.21,"v":0.17},{"c":3,"m":"B","s":4.47,"v":0.178},{"c":3,"m":"B","s":4.74,"v":0.185},{"c":3,"m":"B","s":5,"v":0.192}
],
"bias":[
{"c":1,"m":"A","s":0,"v":0.036},{"c":1,"m":"A","s":0.25,"v":0.036},{"c":1,"m":"A","s":0.5,"v":0.036},{"c":1,"m":"A","s":0.75,"v":0.035},{"c":1,"m":"A","s":1,"v":0.032},{"c":1,"m":"A","s":1.25,"v":0.028},{"c":1,"m":"A","s":1.5,"v":0.023},{"c":1,"m":"A","s":1.75,"v":0.019},{"c":1,"m":"A","s":2,"v":0.016},{"c":1,"m":"A","s":2.5,"v":0.014},{"c":1,"m":"A","s":3,"v":0.013},{"c":1,"m":"A","s":3.5,"v":0.013},{"c":1,"m":"A","s":4,"v":0.013},{"c":1,"m":"A","s":4.5,"v":0.014},{"c":1,"m":"A","s":5,"v":0.015},
{"c":1,"m":"B","s":0,"v":0},{"c":1,"m":"B","s":1,"v":0.0005},{"c":1,"m":"B","s":2,"v":0.001},{"c":1,"m":"B","s":3,"v":0.002},{"c":1,"m":"B","s":4,"v":0.004},{"c":1,"m":"B","s":5,"v":0.006},
{"c":2,"m":"A","s":0,"v":0.074},{"c":2,"m":"A","s":0.25,"v":0.074},{"c":2,"m":"A","s":0.5,"v":0.073},{"c":2,"m":"A","s":0.75,"v":0.07},{"c":2,"m":"A","s":1,"v":0.063},{"c":2,"m":"A","s":1.25,"v":0.055},{"c":2,"m":"A","s":1.5,"v":0.047},{"c":2,"m":"A","s":1.75,"v":0.04},{"c":2,"m":"A","s":2,"v":0.034},{"c":2,"m":"A","s":2.5,"v":0.027},{"c":2,"m":"A","s":3,"v":0.024},{"c":2,"m":"A","s":3.5,"v":0.024},{"c":2,"m":"A","s":4,"v":0.025},{"c":2,"m":"A","s":4.5,"v":0.027},{"c":2,"m":"A","s":5,"v":0.029},
{"c":2,"m":"B","s":0,"v":0},{"c":2,"m":"B","s":1,"v":0.001},{"c":2,"m":"B","s":2,"v":0.003},{"c":2,"m":"B","s":3,"v":0.006},{"c":2,"m":"B","s":4,"v":0.01},{"c":2,"m":"B","s":5,"v":0.014},
{"c":3,"m":"A","s":0,"v":0.319},{"c":3,"m":"A","s":0.37,"v":0.316},{"c":3,"m":"A","s":0.8,"v":0.291},{"c":3,"m":"A","s":1.05,"v":0.25},{"c":3,"m":"A","s":1.32,"v":0.201},{"c":3,"m":"A","s":1.57,"v":0.188},{"c":3,"m":"A","s":2.09,"v":0.171},{"c":3,"m":"A","s":2.6,"v":0.173},{"c":3,"m":"A","s":3,"v":0.176},{"c":3,"m":"A","s":4,"v":0.188},{"c":3,"m":"A","s":5,"v":0.197},
{"c":3,"m":"B","s":0,"v":0},{"c":3,"m":"B","s":1.23,"v":0.003},{"c":3,"m":"B","s":2.09,"v":0.015},{"c":3,"m":"B","s":3,"v":0.025},{"c":3,"m":"B","s":4,"v":0.036},{"c":3,"m":"B","s":5,"v":0.046}
]
},
"concat":[
{"width":215,"height":58,"title":"Mean: 10","layer":[
 {"data":{"name":"meas"},"transform":[{"filter":"datum.c==1"}],"mark":{"type":"area","color":"#808080"},"encoding":{"x":{"field":"t","type":"quantitative","title":null,"scale":{"domain":[-204.8,4300.8],"nice":false,"zero":false},"axis":{"values":[0,4096],"labels":false}},"y":{"field":"hi","type":"quantitative","title":null,"scale":{"domain":[0,30.9],"nice":false},"axis":{"values":[0,25]}},"y2":{"field":"lo"}}},
 {"data":{"name":"truth"},"transform":[{"filter":"datum.c==1"}],"mark":{"type":"line","color":"#000","strokeWidth":3,"interpolate":"step-after"},"encoding":{"x":{"field":"t","type":"quantitative","title":null},"y":{"field":"v","type":"quantitative","title":null}}}
]},
{"width":215,"height":58,"title":"Mean: 5","layer":[
 {"data":{"name":"meas"},"transform":[{"filter":"datum.c==2"}],"mark":{"type":"area","color":"#808080"},"encoding":{"x":{"field":"t","type":"quantitative","title":null,"scale":{"domain":[-204.8,4300.8],"nice":false,"zero":false},"axis":{"values":[0,4096],"labels":false}},"y":{"field":"hi","type":"quantitative","title":null,"scale":{"domain":[0,19],"nice":false},"axis":{"values":[0,10]}},"y2":{"field":"lo"}}},
 {"data":{"name":"truth"},"transform":[{"filter":"datum.c==2"}],"mark":{"type":"line","color":"#000","strokeWidth":3,"interpolate":"step-after"},"encoding":{"x":{"field":"t","type":"quantitative","title":null},"y":{"field":"v","type":"quantitative","title":null}}}
]},
{"width":215,"height":58,"title":"Mean: 1","layer":[
 {"data":{"name":"meas"},"transform":[{"filter":"datum.c==3"}],"mark":{"type":"area","color":"#808080","interpolate":"step-after"},"encoding":{"x":{"field":"t","type":"quantitative","title":null,"scale":{"domain":[-204.8,4300.8],"nice":false,"zero":false},"axis":{"values":[0,4096],"labels":false}},"y":{"field":"hi","type":"quantitative","title":null,"scale":{"domain":[0,6.26],"nice":false},"axis":{"values":[0,5]}},"y2":{"field":"lo"}}},
 {"data":{"name":"truth"},"transform":[{"filter":"datum.c==3"}],"mark":{"type":"line","color":"#000","strokeWidth":3,"interpolate":"step-after"},"encoding":{"x":{"field":"t","type":"quantitative","title":null},"y":{"field":"v","type":"quantitative","title":null}}},
 {"data":{"values":[{}]},"mark":{"type":"text","text":"Measured","color":"#808080","align":"left","baseline":"middle","fontSize":23,"dx":1},"encoding":{"x":{"datum":4300.8},"y":{"datum":3.2}}},
 {"data":{"values":[{}]},"mark":{"type":"text","text":"True","color":"#000","align":"left","baseline":"middle","fontSize":23,"dx":1},"encoding":{"x":{"datum":4300.8},"y":{"datum":0.8}}}
]},
{"width":215,"height":58,"layer":[
 {"data":{"name":"truth"},"transform":[{"filter":"datum.c==1"}],"mark":{"type":"line","color":"#000","strokeWidth":3,"interpolate":"step-after"},"encoding":{"x":{"field":"t","type":"quantitative","scale":{"domain":[-204.8,4300.8],"nice":false,"zero":false},"axis":{"title":null,"values":[0,4096],"labels":false}},"y":{"field":"v","type":"quantitative","scale":{"domain":[0,19.4],"nice":false},"axis":{"title":"Signal [counts]","values":[0,10],"titleFontSize":27,"titleX":-93.5,"titleY":29,"titleBaseline":"middle","titleAlign":"center","titleAngle":-90}}}},
 {"data":{"name":"den"},"transform":[{"filter":"datum.c==1 && datum.m=='A'"}],"mark":{"type":"line","color":"#1f77b4","strokeWidth":3},"encoding":{"x":{"field":"t","type":"quantitative"},"y":{"field":"v","type":"quantitative"}}}
]},
{"width":215,"height":58,"layer":[
 {"data":{"name":"truth"},"transform":[{"filter":"datum.c==2"}],"mark":{"type":"line","color":"#000","strokeWidth":3,"interpolate":"step-after"},"encoding":{"x":{"field":"t","type":"quantitative","title":null,"scale":{"domain":[-204.8,4300.8],"nice":false,"zero":false},"axis":{"values":[0,4096],"labels":false}},"y":{"field":"v","type":"quantitative","title":null,"scale":{"domain":[0,11.3],"nice":false},"axis":{"values":[0,10]}}}},
 {"data":{"name":"den"},"transform":[{"filter":"datum.c==2 && datum.m=='A'"}],"mark":{"type":"line","color":"#1f77b4","strokeWidth":3},"encoding":{"x":{"field":"t","type":"quantitative","title":null},"y":{"field":"v","type":"quantitative","title":null}}}
]},
{"width":215,"height":58,"layer":[
 {"data":{"name":"truth"},"transform":[{"filter":"datum.c==3"}],"mark":{"type":"line","color":"#000","strokeWidth":3,"interpolate":"step-after"},"encoding":{"x":{"field":"t","type":"quantitative","title":null,"scale":{"domain":[-204.8,4300.8],"nice":false,"zero":false},"axis":{"values":[0,4096],"labels":false}},"y":{"field":"v","type":"quantitative","title":null,"scale":{"domain":[0,1.59],"nice":false},"axis":{"values":[0,1]}}}},
 {"data":{"name":"den"},"transform":[{"filter":"datum.c==3 && datum.m=='A'"}],"mark":{"type":"line","color":"#1f77b4","strokeWidth":3},"encoding":{"x":{"field":"t","type":"quantitative","title":null},"y":{"field":"v","type":"quantitative","title":null}}},
 {"data":{"values":[{}]},"mark":{"type":"text","text":"Anscombe","color":"#1f77b4","align":"left","baseline":"middle","fontSize":23,"dx":1},"encoding":{"x":{"datum":4300.8},"y":{"datum":1.05}}}
]},
{"width":215,"height":58,"layer":[
 {"data":{"name":"truth"},"transform":[{"filter":"datum.c==1"}],"mark":{"type":"line","color":"#000","strokeWidth":3,"interpolate":"step-after"},"encoding":{"x":{"field":"t","type":"quantitative","scale":{"domain":[-204.8,4300.8],"nice":false,"zero":false},"axis":{"title":"Time [samples]","values":[0,4096],"format":"d"}},"y":{"field":"v","type":"quantitative","title":null,"scale":{"domain":[0,19.4],"nice":false},"axis":{"values":[0,10]}}}},
 {"data":{"name":"den"},"transform":[{"filter":"datum.c==1 && datum.m=='B'"}],"mark":{"type":"line","color":"#ff7f0e","strokeWidth":3},"encoding":{"x":{"field":"t","type":"quantitative"},"y":{"field":"v","type":"quantitative","title":null}}}
]},
{"width":215,"height":58,"layer":[
 {"data":{"name":"truth"},"transform":[{"filter":"datum.c==2"}],"mark":{"type":"line","color":"#000","strokeWidth":3,"interpolate":"step-after"},"encoding":{"x":{"field":"t","type":"quantitative","scale":{"domain":[-204.8,4300.8],"nice":false,"zero":false},"axis":{"title":"Time [samples]","values":[0,4096],"format":"d"}},"y":{"field":"v","type":"quantitative","title":null,"scale":{"domain":[0,10.4],"nice":false},"axis":{"values":[0,10]}}}},
 {"data":{"name":"den"},"transform":[{"filter":"datum.c==2 && datum.m=='B'"}],"mark":{"type":"line","color":"#ff7f0e","strokeWidth":3},"encoding":{"x":{"field":"t","type":"quantitative"},"y":{"field":"v","type":"quantitative","title":null}}}
]},
{"width":215,"height":58,"layer":[
 {"data":{"name":"truth"},"transform":[{"filter":"datum.c==3"}],"mark":{"type":"line","color":"#000","strokeWidth":3,"interpolate":"step-after"},"encoding":{"x":{"field":"t","type":"quantitative","scale":{"domain":[-204.8,4300.8],"nice":false,"zero":false},"axis":{"title":"Time [samples]","values":[0,4096],"format":"d"}},"y":{"field":"v","type":"quantitative","title":null,"scale":{"domain":[0,1.59],"nice":false},"axis":{"values":[0,1]}}}},
 {"data":{"name":"den"},"transform":[{"filter":"datum.c==3 && datum.m=='B'"}],"mark":{"type":"line","color":"#ff7f0e","strokeWidth":3},"encoding":{"x":{"field":"t","type":"quantitative"},"y":{"field":"v","type":"quantitative","title":null}}},
 {"data":{"values":[{}]},"mark":{"type":"text","text":"Binlets","color":"#ff7f0e","align":"left","baseline":"middle","fontSize":23,"dx":1},"encoding":{"x":{"datum":4300.8},"y":{"datum":0.91}}}
]},
{"width":215,"height":126,"data":{"values":[{}]},"mark":{"type":"point","opacity":0},"encoding":{}},
{"width":215,"height":126,"data":{"values":[{}]},"mark":{"type":"point","opacity":0},"encoding":{}},
{"width":215,"height":126,"data":{"values":[{}]},"mark":{"type":"point","opacity":0},"encoding":{}},
{"width":215,"height":77,"layer":[
 {"data":{"name":"rmse"},"transform":[{"filter":"datum.c==1 && datum.m=='A'"}],"mark":{"type":"line","color":"#1f77b4","strokeWidth":3},"encoding":{"x":{"field":"s","type":"quantitative","title":null,"scale":{"domain":[-0.25,5.25],"nice":false,"zero":false},"axis":{"values":[0,2,4],"labels":false}},"y":{"field":"v","type":"quantitative","scale":{"type":"log","domain":[0.092,1],"nice":false},"axis":{"title":"RMSE","values":[0.1,0.2,0.3,0.4,0.5,0.6,0.7,0.8,0.9,1],"labelExpr":"datum.value==1 ? '10⁰' : (datum.value==0.1 ? '10⁻¹' : '')","tickSize":{"condition":{"test":"datum.value==1 || datum.value==0.1","value":7},"value":4},"titleX":-93.5,"titleY":38.5,"titleBaseline":"middle","titleAlign":"center","titleAngle":-90}}}},
 {"data":{"name":"rmse"},"transform":[{"filter":"datum.c==1 && datum.m=='B'"}],"mark":{"type":"line","color":"#ff7f0e","strokeWidth":3},"encoding":{"x":{"field":"s","type":"quantitative","title":null},"y":{"field":"v","type":"quantitative"}}},
 {"data":{"values":[{}]},"mark":{"type":"rule","color":"#000","strokeWidth":2.5,"strokeDash":[9,4]},"encoding":{"x":{"datum":3}}}
]},
{"width":215,"height":77,"layer":[
 {"data":{"name":"rmse"},"transform":[{"filter":"datum.c==2 && datum.m=='A'"}],"mark":{"type":"line","color":"#1f77b4","strokeWidth":3},"encoding":{"x":{"field":"s","type":"quantitative","title":null,"scale":{"domain":[-0.25,5.25],"nice":false,"zero":false},"axis":{"values":[0,2,4],"labels":false}},"y":{"field":"v","type":"quantitative","title":null,"scale":{"type":"log","domain":[0.092,1],"nice":false},"axis":{"values":[0.1,0.2,0.3,0.4,0.5,0.6,0.7,0.8,0.9,1],"labels":false,"tickSize":{"condition":{"test":"datum.value==1 || datum.value==0.1","value":7},"value":4}}}}},
 {"data":{"name":"rmse"},"transform":[{"filter":"datum.c==2 && datum.m=='B'"}],"mark":{"type":"line","color":"#ff7f0e","strokeWidth":3},"encoding":{"x":{"field":"s","type":"quantitative","title":null},"y":{"field":"v","type":"quantitative","title":null}}},
 {"data":{"values":[{}]},"mark":{"type":"rule","color":"#000","strokeWidth":2.5,"strokeDash":[9,4]},"encoding":{"x":{"datum":3}}}
]},
{"width":215,"height":77,"layer":[
 {"data":{"name":"rmse"},"transform":[{"filter":"datum.c==3 && datum.m=='A'"}],"mark":{"type":"line","color":"#1f77b4","strokeWidth":3},"encoding":{"x":{"field":"s","type":"quantitative","title":null,"scale":{"domain":[-0.25,5.25],"nice":false,"zero":false},"axis":{"values":[0,2,4],"labels":false}},"y":{"field":"v","type":"quantitative","title":null,"scale":{"type":"log","domain":[0.092,1],"nice":false},"axis":{"values":[0.1,0.2,0.3,0.4,0.5,0.6,0.7,0.8,0.9,1],"labels":false,"tickSize":{"condition":{"test":"datum.value==1 || datum.value==0.1","value":7},"value":4}}}}},
 {"data":{"name":"rmse"},"transform":[{"filter":"datum.c==3 && datum.m=='B'"}],"mark":{"type":"line","color":"#ff7f0e","strokeWidth":3},"encoding":{"x":{"field":"s","type":"quantitative","title":null},"y":{"field":"v","type":"quantitative","title":null}}},
 {"data":{"values":[{}]},"mark":{"type":"rule","color":"#000","strokeWidth":2.5,"strokeDash":[9,4]},"encoding":{"x":{"datum":3}}},
 {"data":{"values":[{}]},"mark":{"type":"text","text":"Anscombe","color":"#1f77b4","align":"left","baseline":"middle","fontSize":23,"dx":1},"encoding":{"x":{"datum":5.25},"y":{"datum":0.345}}},
 {"data":{"values":[{}]},"mark":{"type":"text","text":"Binlets","color":"#ff7f0e","align":"left","baseline":"middle","fontSize":23,"dx":1},"encoding":{"x":{"datum":5.25},"y":{"datum":0.186}}}
]},
{"width":215,"height":79,"layer":[
 {"data":{"name":"bias"},"transform":[{"filter":"datum.c==1 && datum.m=='A'"}],"mark":{"type":"line","color":"#1f77b4","strokeWidth":3},"encoding":{"x":{"field":"s","type":"quantitative","scale":{"domain":[-0.25,5.25],"nice":false,"zero":false},"axis":{"title":"Threshold σ","values":[0,2,4]}},"y":{"field":"v","type":"quantitative","scale":{"domain":[-0.0345,0.357],"nice":false,"zero":false},"axis":{"title":"Bias","values":[0,0.25],"format":".2f","titleX":-93.5,"titleY":39.5,"titleBaseline":"middle","titleAlign":"center","titleAngle":-90}}}},
 {"data":{"values":[{}]},"mark":{"type":"rule","color":"#000","strokeWidth":3},"encoding":{"y":{"datum":0}}},
 {"data":{"name":"bias"},"transform":[{"filter":"datum.c==1 && datum.m=='B'"}],"mark":{"type":"line","color":"#ff7f0e","strokeWidth":3},"encoding":{"x":{"field":"s","type":"quantitative"},"y":{"field":"v","type":"quantitative"}}},
 {"data":{"values":[{}]},"mark":{"type":"rule","color":"#000","strokeWidth":2.5,"strokeDash":[9,4]},"encoding":{"x":{"datum":3}}}
]},
{"width":215,"height":79,"layer":[
 {"data":{"name":"bias"},"transform":[{"filter":"datum.c==2 && datum.m=='A'"}],"mark":{"type":"line","color":"#1f77b4","strokeWidth":3},"encoding":{"x":{"field":"s","type":"quantitative","scale":{"domain":[-0.25,5.25],"nice":false,"zero":false},"axis":{"title":"Threshold σ","values":[0,2,4]}},"y":{"field":"v","type":"quantitative","title":null,"scale":{"domain":[-0.0345,0.357],"nice":false,"zero":false},"axis":{"values":[0,0.25],"labels":false}}}},
 {"data":{"values":[{}]},"mark":{"type":"rule","color":"#000","strokeWidth":3},"encoding":{"y":{"datum":0}}},
 {"data":{"name":"bias"},"transform":[{"filter":"datum.c==2 && datum.m=='B'"}],"mark":{"type":"line","color":"#ff7f0e","strokeWidth":3},"encoding":{"x":{"field":"s","type":"quantitative"},"y":{"field":"v","type":"quantitative","title":null}}},
 {"data":{"values":[{}]},"mark":{"type":"rule","color":"#000","strokeWidth":2.5,"strokeDash":[9,4]},"encoding":{"x":{"datum":3}}}
]},
{"width":215,"height":79,"layer":[
 {"data":{"name":"bias"},"transform":[{"filter":"datum.c==3 && datum.m=='A'"}],"mark":{"type":"line","color":"#1f77b4","strokeWidth":3},"encoding":{"x":{"field":"s","type":"quantitative","scale":{"domain":[-0.25,5.25],"nice":false,"zero":false},"axis":{"title":"Threshold σ","values":[0,2,4]}},"y":{"field":"v","type":"quantitative","title":null,"scale":{"domain":[-0.0345,0.357],"nice":false,"zero":false},"axis":{"values":[0,0.25],"labels":false}}}},
 {"data":{"values":[{}]},"mark":{"type":"rule","color":"#000","strokeWidth":3},"encoding":{"y":{"datum":0}}},
 {"data":{"name":"bias"},"transform":[{"filter":"datum.c==3 && datum.m=='B'"}],"mark":{"type":"line","color":"#ff7f0e","strokeWidth":3},"encoding":{"x":{"field":"s","type":"quantitative"},"y":{"field":"v","type":"quantitative","title":null}}},
 {"data":{"values":[{}]},"mark":{"type":"rule","color":"#000","strokeWidth":2.5,"strokeDash":[9,4]},"encoding":{"x":{"datum":3}}},
 {"data":{"values":[{}]},"mark":{"type":"text","text":"Anscombe","color":"#1f77b4","align":"left","baseline":"middle","fontSize":23,"dx":1},"encoding":{"x":{"datum":5.25},"y":{"datum":0.234}}},
 {"data":{"values":[{}]},"mark":{"type":"text","text":"Binlets","color":"#ff7f0e","align":"left","baseline":"middle","fontSize":23,"dx":1},"encoding":{"x":{"datum":5.25},"y":{"datum":0.064}}}
]}
]
}
